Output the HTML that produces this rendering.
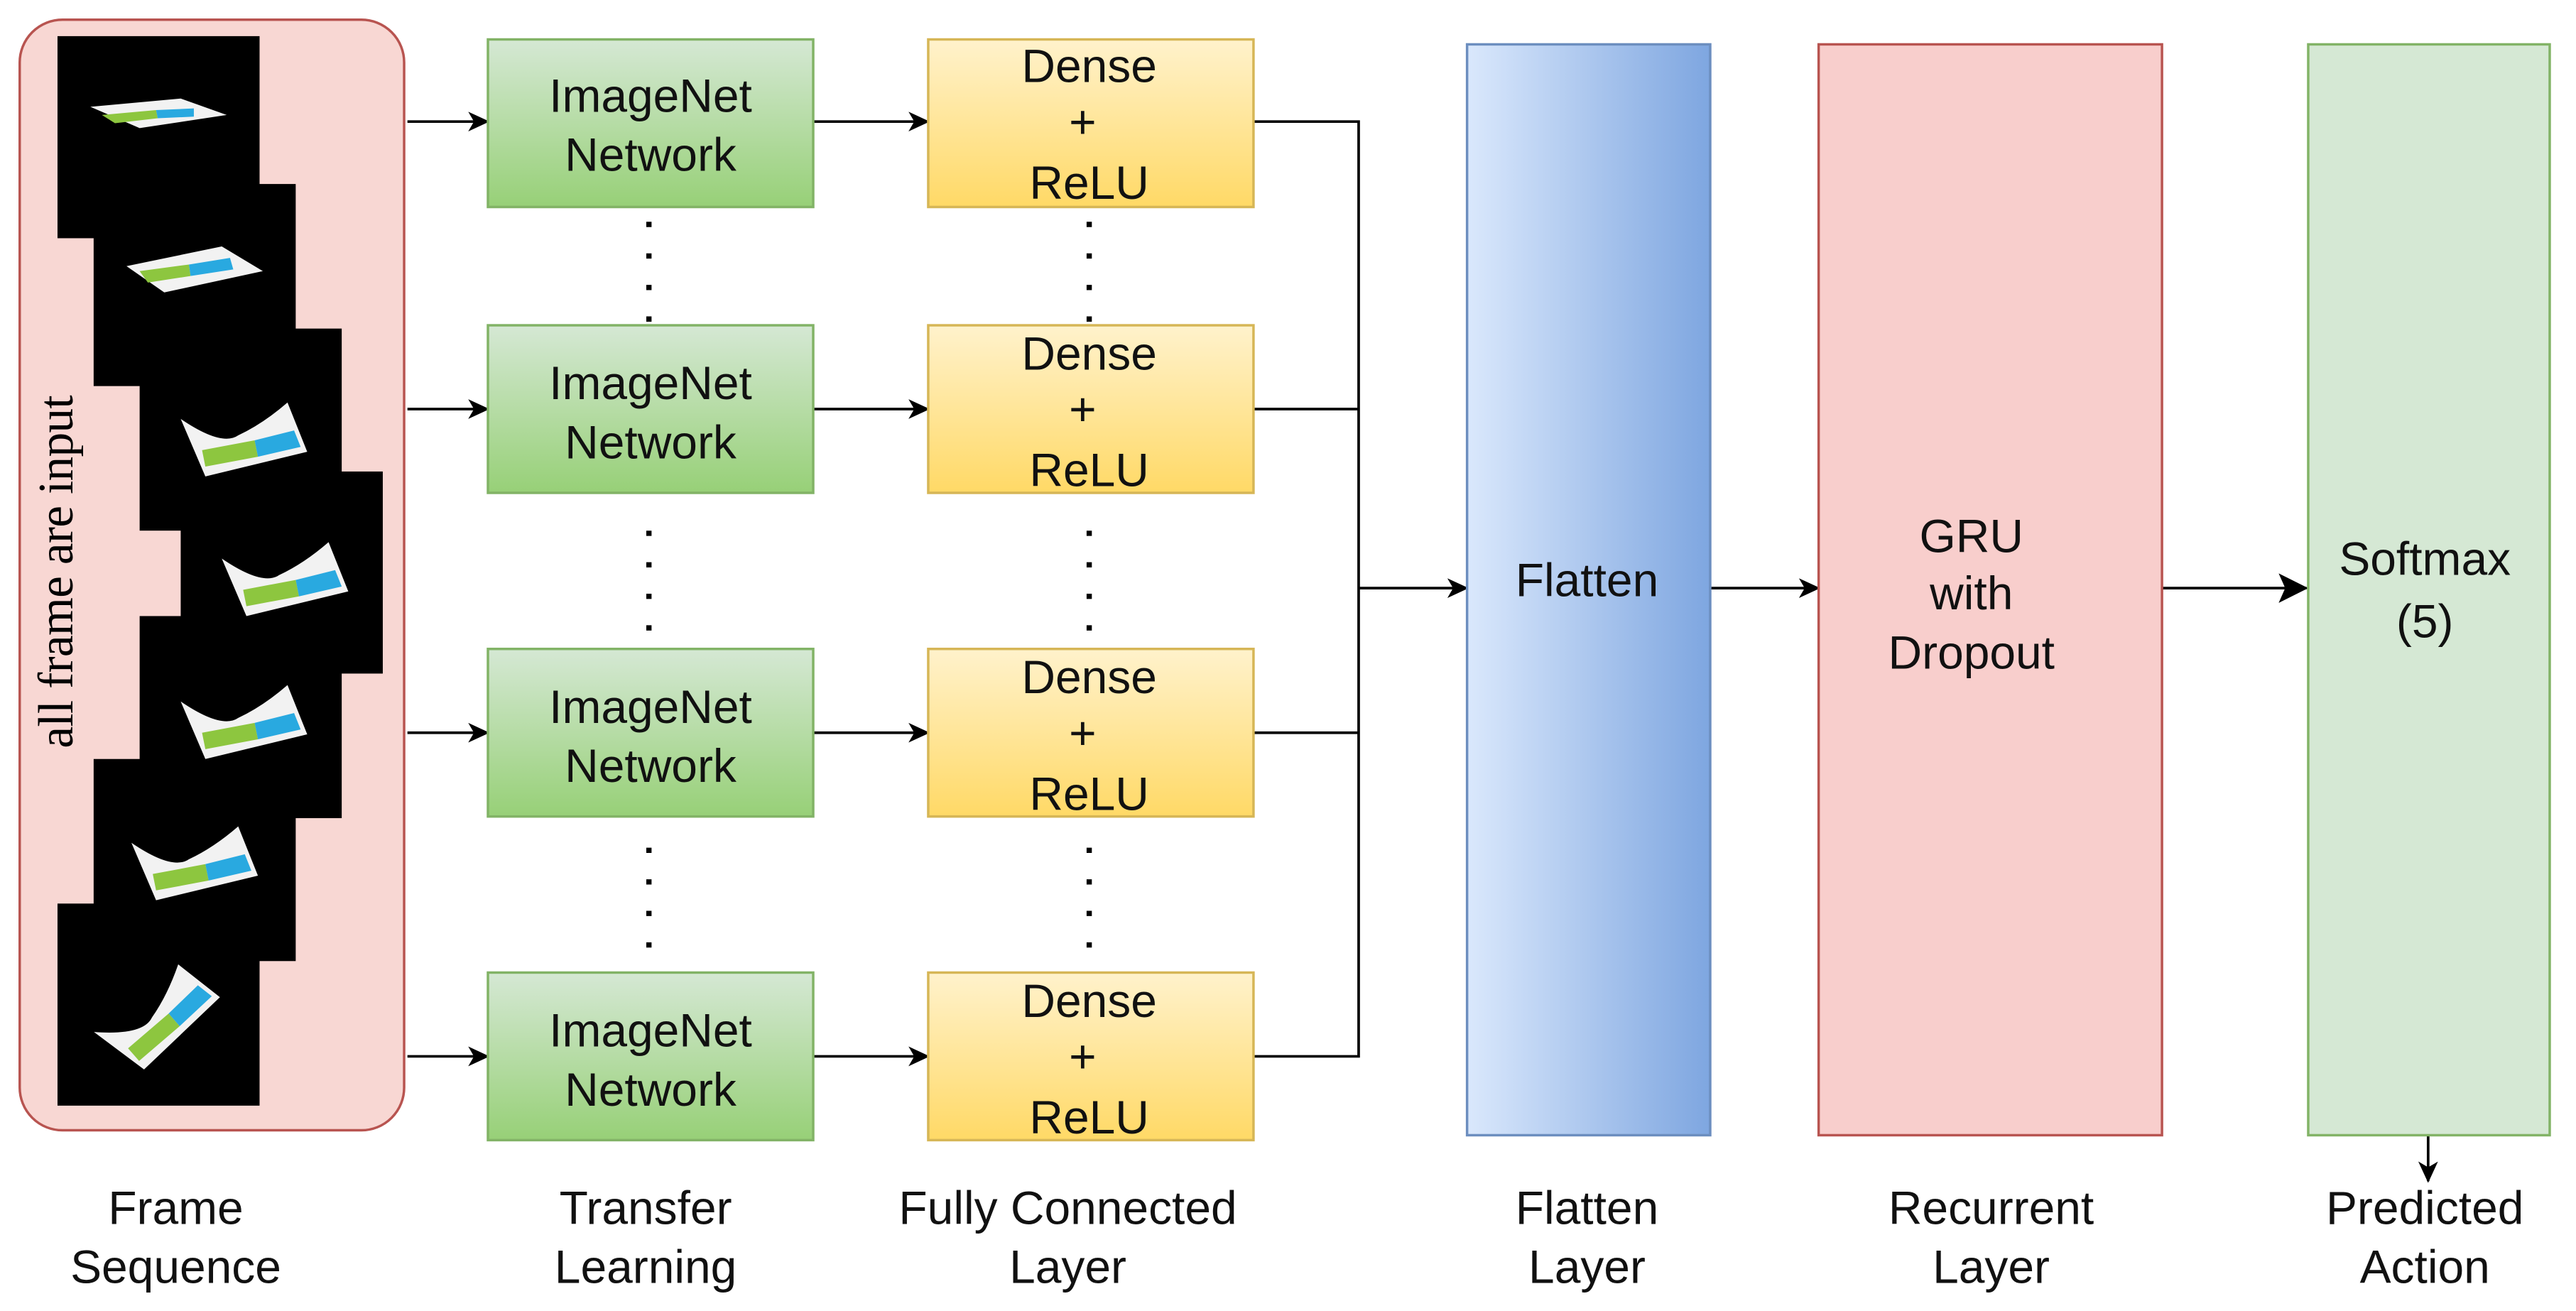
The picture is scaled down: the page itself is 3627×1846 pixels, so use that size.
<!DOCTYPE html>
<html><head><meta charset="utf-8"><style>html,body{margin:0;padding:0;background:#fff}svg{display:block}</style></head>
<body>
<svg width="3627" height="1846" viewBox="0 0 1568 798" preserveAspectRatio="none" xmlns="http://www.w3.org/2000/svg">
<defs>
<linearGradient id="gg" x1="0" y1="0" x2="0" y2="1"><stop offset="0" stop-color="#d5e8d4"/><stop offset="1" stop-color="#97d077"/></linearGradient>
<linearGradient id="yg" x1="0" y1="0" x2="0" y2="1"><stop offset="0" stop-color="#fff2cc"/><stop offset="1" stop-color="#ffd966"/></linearGradient>
<linearGradient id="bg" x1="0" y1="0" x2="1" y2="0"><stop offset="0" stop-color="#dae8fc"/><stop offset="1" stop-color="#7ea6e0"/></linearGradient>
<marker id="ar" markerWidth="13" markerHeight="12" refX="12" refY="6" orient="auto" markerUnits="userSpaceOnUse"><path d="M0,0 L13,6 L0,12 L3.5,6 z" fill="#000"/></marker>
<marker id="ar2" markerWidth="18" markerHeight="18" refX="17" refY="9" orient="auto" markerUnits="userSpaceOnUse"><path d="M0,0 L18,9 L0,18 L4,9 z" fill="#000"/></marker>
<g id="paper">
<path d="M-35,-5 Q-10,12 0,5 Q15,-2 30,-15 L42,15 L-20,30 z" fill="#f2f2f2"/>
<path d="M-22,14 L10,8 L12,18 L-20,24 z" fill="#8dc63f"/>
<path d="M10,8 L34,2 L38,12 L12,18 z" fill="#29a9e0"/>
</g>
</defs>
<rect x="12" y="12" width="234" height="676" rx="26" fill="#f8d7d3" stroke="#b85450" stroke-width="1.5"/>
<g fill="#000">
<rect x="35" y="22" width="123" height="123"/>
<rect x="57" y="112" width="123" height="123"/>
<rect x="85" y="200" width="123" height="123"/>
<rect x="110" y="287" width="123" height="123"/>
<rect x="85" y="375" width="123" height="123"/>
<rect x="57" y="462" width="123" height="123"/>
<rect x="35" y="550" width="123" height="123"/>
</g>
<path d="M55,65 L110,60 L138,70 L85,78 z" fill="#f2f2f2"/><path d="M62,70 L95,67 L96,72 L70,75 z" fill="#8dc63f"/><path d="M95,67 L118,66 L118,71 L96,72z" fill="#29a9e0"/>
<path d="M77,162 L135,150 L160,165 L100,178 z" fill="#f2f2f2"/><path d="M85,165 L115,161 L116,168 L90,172 z" fill="#8dc63f"/><path d="M115,161 L140,157 L142,164 L116,168z" fill="#29a9e0"/>
<use href="#paper" x="145" y="260"/>
<use href="#paper" x="170" y="345"/>
<use href="#paper" x="145" y="432"/>
<use href="#paper" x="115" y="518"/>
<g transform="translate(90,615) rotate(-30)"><use href="#paper" x="0" y="0"/></g>
<text transform="translate(44,348) rotate(-90)" text-anchor="middle" font-family="Liberation Serif, serif" font-size="30" textLength="215" fill="#000">all frame are input</text>

<g stroke="#000" stroke-width="1.6" fill="none">
<line x1="248" y1="74" x2="297" y2="74" marker-end="url(#ar)"/>
<line x1="248" y1="249" x2="297" y2="249" marker-end="url(#ar)"/>
<line x1="248" y1="446" x2="297" y2="446" marker-end="url(#ar)"/>
<line x1="248" y1="643" x2="297" y2="643" marker-end="url(#ar)"/>
<line x1="495" y1="74" x2="565" y2="74" marker-end="url(#ar)"/>
<line x1="495" y1="249" x2="565" y2="249" marker-end="url(#ar)"/>
<line x1="495" y1="446" x2="565" y2="446" marker-end="url(#ar)"/>
<line x1="495" y1="643" x2="565" y2="643" marker-end="url(#ar)"/>
<path d="M763,74 H827 V643 H763 M763,249 H827 M763,446 H827"/>
<line x1="827" y1="358" x2="893" y2="358" marker-end="url(#ar)"/>
<line x1="1041" y1="358" x2="1107" y2="358" marker-end="url(#ar)"/>
<line x1="1316" y1="358" x2="1404" y2="358" marker-end="url(#ar2)"/>
<line x1="1478" y1="691" x2="1478" y2="719" marker-end="url(#ar)"/>
</g>
<g stroke="#000" stroke-width="3.2" stroke-dasharray="3.2,16" fill="none">
<line x1="395" y1="135" x2="395" y2="197"/><line x1="395" y1="323" x2="395" y2="392"/><line x1="395" y1="516" x2="395" y2="585"/>
<line x1="663" y1="135" x2="663" y2="197"/><line x1="663" y1="323" x2="663" y2="392"/><line x1="663" y1="516" x2="663" y2="585"/>
</g>
<g stroke="#82b366" stroke-width="1.5" fill="url(#gg)">
<rect x="297" y="24" width="198" height="102"/><rect x="297" y="198" width="198" height="102"/><rect x="297" y="395" width="198" height="102"/><rect x="297" y="592" width="198" height="102"/>
</g>
<g stroke="#d6b656" stroke-width="1.5" fill="url(#yg)">
<rect x="565" y="24" width="198" height="102"/><rect x="565" y="198" width="198" height="102"/><rect x="565" y="395" width="198" height="102"/><rect x="565" y="592" width="198" height="102"/>
</g>
<rect x="893" y="27" width="148" height="664" fill="url(#bg)" stroke="#6c8ebf" stroke-width="1.5"/>
<rect x="1107" y="27" width="209" height="664" fill="#f8cecc" stroke="#b85450" stroke-width="1.5"/>
<rect x="1405" y="27" width="147" height="664" fill="#d5e8d4" stroke="#82b366" stroke-width="1.5"/>

<g font-family="Liberation Sans, sans-serif" font-size="28.5" text-anchor="middle" fill="#111">
<text x="396" y="68">ImageNet</text><text x="396" y="104">Network</text>
<text x="396" y="243">ImageNet</text><text x="396" y="279">Network</text>
<text x="396" y="440">ImageNet</text><text x="396" y="476">Network</text>
<text x="396" y="637">ImageNet</text><text x="396" y="673">Network</text>
<g><text x="663" y="50">Dense</text><text x="659" y="84">+</text><text x="663" y="121">ReLU</text></g>
<g><text x="663" y="225">Dense</text><text x="659" y="259">+</text><text x="663" y="296">ReLU</text></g>
<g><text x="663" y="422">Dense</text><text x="659" y="456">+</text><text x="663" y="493">ReLU</text></g>
<g><text x="663" y="619">Dense</text><text x="659" y="653">+</text><text x="663" y="690">ReLU</text></g>
<text x="966" y="363">Flatten</text>
<text x="1200" y="336">GRU</text><text x="1200" y="371">with</text><text x="1200" y="407">Dropout</text>
<text x="1476" y="350">Softmax</text><text x="1476" y="388">(5)</text>
<text x="107" y="745">Frame</text><text x="107" y="781">Sequence</text>
<text x="393" y="745">Transfer</text><text x="393" y="781">Learning</text>
<text x="650" y="745">Fully Connected</text><text x="650" y="781">Layer</text>
<text x="966" y="745">Flatten</text><text x="966" y="781">Layer</text>
<text x="1212" y="745">Recurrent</text><text x="1212" y="781">Layer</text>
<text x="1476" y="745">Predicted</text><text x="1476" y="781">Action</text>
</g>
</svg>
</body></html>
